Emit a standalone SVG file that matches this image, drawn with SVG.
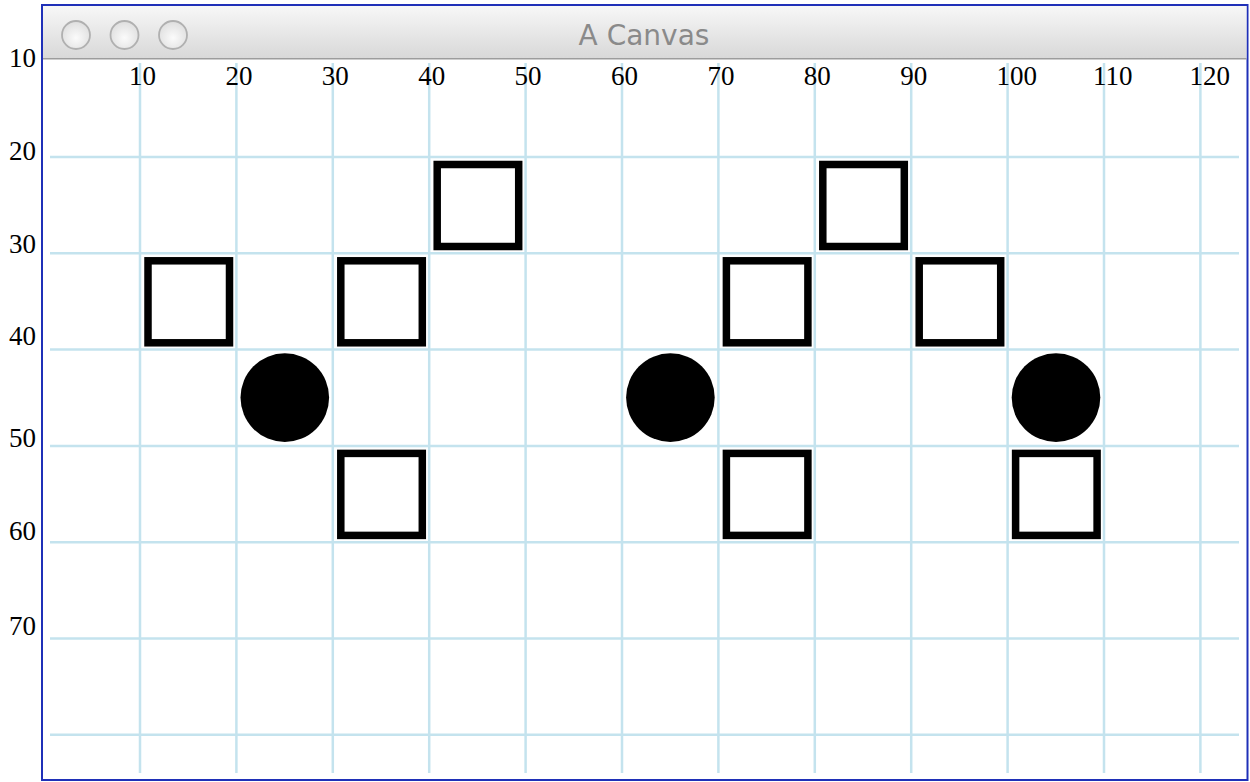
<svg xmlns="http://www.w3.org/2000/svg" width="1250" height="782" viewBox="0 0 1250 782">
<defs>
<linearGradient id="tb" x1="0" y1="0" x2="0" y2="1">
<stop offset="0" stop-color="#f7f7f7"/>
<stop offset="1" stop-color="#d8d8d8"/>
</linearGradient>
<radialGradient id="btn" cx="0.5" cy="0.6" r="0.6">
<stop offset="0" stop-color="#fbfbfb"/>
<stop offset="1" stop-color="#dedede"/>
</radialGradient>
</defs>
<style>
.grid line{stroke:#c4e3ee;stroke-width:2.5}
.lbl{font-family:"Liberation Serif","Times New Roman",serif;font-size:27px;fill:#000}
.sq{fill:#fff;stroke:#000;stroke-width:7.5}
.dot{fill:#000}
.btn{fill:url(#btn);stroke:#b0b0b0;stroke-width:1.8}
</style>
<rect width="1250" height="782" fill="#fff"/>
<g id="window">
<rect x="42" y="5" width="1205.5" height="775" fill="#fff" stroke="#1f30b8" stroke-width="2"/>
<rect x="43" y="6" width="1203.5" height="52.5" fill="url(#tb)"/>
<line x1="43" y1="58.8" x2="1246.5" y2="58.8" stroke="#9c9c9c" stroke-width="1.5"/>
<circle class="btn" cx="76" cy="35" r="14"/>
<circle class="btn" cx="124.5" cy="35" r="14"/>
<circle class="btn" cx="173" cy="35" r="14"/>
<text x="644" y="45" text-anchor="middle" font-family="DejaVu Sans,Verdana,sans-serif" font-size="28" fill="#8a8a8a">A Canvas</text>
</g>
<g class="grid" id="grid">
<line x1="140" y1="63" x2="140" y2="773"/>
<line x1="236.4" y1="63" x2="236.4" y2="773"/>
<line x1="332.8" y1="63" x2="332.8" y2="773"/>
<line x1="429.2" y1="63" x2="429.2" y2="773"/>
<line x1="525.6" y1="63" x2="525.6" y2="773"/>
<line x1="622" y1="63" x2="622" y2="773"/>
<line x1="718.4" y1="63" x2="718.4" y2="773"/>
<line x1="814.8" y1="63" x2="814.8" y2="773"/>
<line x1="911.2" y1="63" x2="911.2" y2="773"/>
<line x1="1007.6" y1="63" x2="1007.6" y2="773"/>
<line x1="1104" y1="63" x2="1104" y2="773"/>
<line x1="1200.4" y1="63" x2="1200.4" y2="773"/>
<line x1="50" y1="157" x2="1239" y2="157"/>
<line x1="50" y1="253.3" x2="1239" y2="253.3"/>
<line x1="50" y1="349.6" x2="1239" y2="349.6"/>
<line x1="50" y1="445.9" x2="1239" y2="445.9"/>
<line x1="50" y1="542.2" x2="1239" y2="542.2"/>
<line x1="50" y1="638.5" x2="1239" y2="638.5"/>
<line x1="50" y1="734.8" x2="1239" y2="734.8"/>
</g>
<g id="xlabels" class="lbl">
<text x="129" y="85">10</text>
<text x="225.4" y="85">20</text>
<text x="321.8" y="85">30</text>
<text x="418.2" y="85">40</text>
<text x="514.6" y="85">50</text>
<text x="611" y="85">60</text>
<text x="707.4" y="85">70</text>
<text x="803.8" y="85">80</text>
<text x="900.2" y="85">90</text>
<text x="996.6" y="85">100</text>
<text x="1093" y="85">110</text>
<text x="1189.4" y="85">120</text>
</g>
<g id="ylabels" class="lbl" text-anchor="end">
<text x="36" y="67">10</text>
<text x="36" y="160">20</text>
<text x="36" y="253">30</text>
<text x="36" y="345">40</text>
<text x="36" y="447">50</text>
<text x="36" y="540">60</text>
<text x="36" y="635">70</text>
</g>
<g id="sq-10-30"><rect class="sq" x="148" y="260.8" width="81.5" height="82"/></g>
<g id="sq-30-30"><rect class="sq" x="340.8" y="260.8" width="81.5" height="82"/></g>
<g id="sq-40-20"><rect class="sq" x="437.2" y="164.5" width="81.5" height="82"/></g>
<g id="sq-30-50"><rect class="sq" x="340.8" y="453.4" width="81.5" height="82"/></g>
<g id="sq-70-30"><rect class="sq" x="726.4" y="260.8" width="81.5" height="82"/></g>
<g id="sq-80-20"><rect class="sq" x="822.8" y="164.5" width="81.5" height="82"/></g>
<g id="sq-90-30"><rect class="sq" x="919.2" y="260.8" width="81.5" height="82"/></g>
<g id="sq-70-50"><rect class="sq" x="726.4" y="453.4" width="81.5" height="82"/></g>
<g id="sq-100-50"><rect class="sq" x="1015.6" y="453.4" width="81.5" height="82"/></g>
<g id="dot-25-45"><circle class="dot" cx="284.8" cy="397.6" r="44.3"/></g>
<g id="dot-65-45"><circle class="dot" cx="670.4" cy="397.6" r="44.3"/></g>
<g id="dot-105-45"><circle class="dot" cx="1056" cy="397.6" r="44.3"/></g>
<g id="connectors"/>
</svg>
